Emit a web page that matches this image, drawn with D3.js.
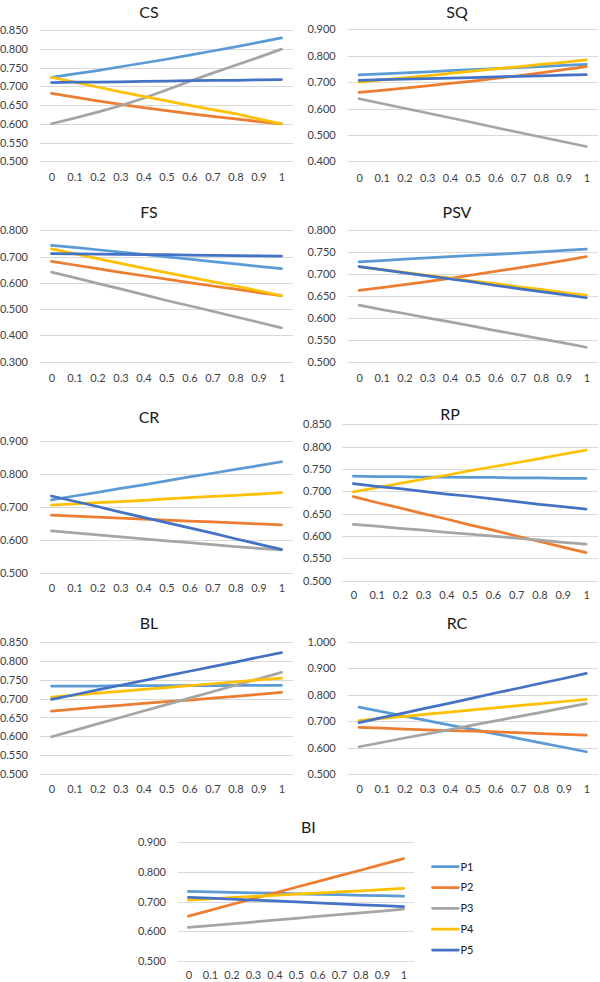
<!DOCTYPE html>
<html>
<head>
<meta charset="utf-8">
<script src="https://cdn.jsdelivr.net/npm/d3@7"></script>
<style>
  html, body { margin: 0; padding: 0; background: #fff; }
  svg { display: block; font-family: Lato, "Open Sans", sans-serif; }
</style>
</head>
<body>
<script>
// ---------------- DATA ----------------
const categories = ["0","0.1","0.2","0.3","0.4","0.5","0.6","0.7","0.8","0.9","1"];
const seriesNames = ["P1","P2","P3","P4","P5"];
const panelTitles = ["CS","SQ","FS","PSV","CR","RP","BL","RC","BI"];

const ticksCS  = [0.5,0.55,0.6,0.65,0.7,0.75,0.8,0.85];
const ticksSQ  = [0.4,0.5,0.6,0.7,0.8,0.9];
const ticksFS  = [0.3,0.4,0.5,0.6,0.7,0.8];
const ticksPSV = [0.5,0.55,0.6,0.65,0.7,0.75,0.8];
const ticksCR  = [0.5,0.6,0.7,0.8,0.9];
const ticksRP  = [0.5,0.55,0.6,0.65,0.7,0.75,0.8,0.85];
const ticksBL  = [0.5,0.55,0.6,0.65,0.7,0.75,0.8,0.85];
const ticksRC  = [0.5,0.6,0.7,0.8,0.9,1.0];
const ticksBI  = [0.5,0.6,0.7,0.8,0.9];

// values per panel: rows = P1..P5, columns = categories
const valuesCS = [
  [0.724,0.733,0.742,0.752,0.762,0.772,0.783,0.794,0.805,0.817,0.829],
  [0.681,0.671,0.661,0.652,0.643,0.635,0.627,0.620,0.613,0.606,0.600],
  [0.600,0.615,0.631,0.648,0.668,0.690,0.713,0.735,0.756,0.777,0.799],
  [0.724,0.711,0.698,0.685,0.673,0.661,0.649,0.638,0.627,0.613,0.600],
  [0.710,0.711,0.711,0.712,0.713,0.714,0.715,0.716,0.716,0.717,0.718]
];
const valuesSQ = [
  [0.727,0.731,0.735,0.739,0.743,0.747,0.751,0.755,0.759,0.763,0.767],
  [0.661,0.669,0.677,0.686,0.695,0.704,0.714,0.724,0.735,0.747,0.759],
  [0.637,0.619,0.601,0.583,0.565,0.547,0.528,0.510,0.492,0.474,0.456],
  [0.700,0.708,0.716,0.724,0.733,0.742,0.750,0.758,0.767,0.775,0.784],
  [0.707,0.709,0.711,0.713,0.715,0.717,0.720,0.722,0.724,0.726,0.728]
];
const valuesFS = [
  [0.743,0.735,0.726,0.717,0.708,0.699,0.690,0.681,0.672,0.663,0.654],
  [0.682,0.668,0.654,0.640,0.627,0.614,0.601,0.588,0.576,0.563,0.551],
  [0.641,0.620,0.598,0.577,0.555,0.533,0.513,0.492,0.471,0.450,0.429],
  [0.729,0.711,0.692,0.674,0.656,0.639,0.622,0.605,0.588,0.570,0.551],
  [0.711,0.710,0.709,0.708,0.707,0.707,0.706,0.705,0.704,0.703,0.702]
];
const valuesPSV = [
  [0.728,0.731,0.734,0.737,0.740,0.743,0.745,0.748,0.751,0.754,0.757],
  [0.663,0.669,0.676,0.683,0.690,0.698,0.706,0.714,0.722,0.731,0.740],
  [0.629,0.619,0.610,0.600,0.591,0.581,0.571,0.562,0.552,0.543,0.533],
  [0.717,0.710,0.704,0.697,0.691,0.684,0.678,0.671,0.665,0.658,0.652],
  [0.717,0.710,0.703,0.696,0.689,0.682,0.674,0.667,0.660,0.653,0.646]
];
const valuesCR = [
  [0.721,0.733,0.744,0.756,0.767,0.779,0.791,0.802,0.814,0.825,0.837],
  [0.675,0.672,0.669,0.666,0.663,0.660,0.657,0.654,0.651,0.648,0.645],
  [0.627,0.621,0.615,0.609,0.603,0.597,0.591,0.585,0.579,0.574,0.569],
  [0.705,0.709,0.713,0.716,0.720,0.724,0.728,0.732,0.735,0.739,0.743],
  [0.733,0.717,0.701,0.684,0.668,0.652,0.636,0.620,0.603,0.587,0.571]
];
const valuesRP = [
  [0.734,0.733,0.733,0.732,0.732,0.731,0.731,0.730,0.730,0.729,0.729],
  [0.688,0.675,0.663,0.650,0.638,0.625,0.613,0.600,0.588,0.575,0.563],
  [0.626,0.622,0.617,0.613,0.608,0.604,0.600,0.595,0.591,0.586,0.582],
  [0.699,0.708,0.718,0.727,0.736,0.746,0.755,0.764,0.773,0.783,0.792],
  [0.717,0.711,0.706,0.700,0.694,0.689,0.683,0.677,0.671,0.666,0.660]
];
const valuesBL = [
  [0.733,0.733,0.733,0.734,0.734,0.734,0.734,0.734,0.735,0.735,0.735],
  [0.667,0.672,0.677,0.682,0.687,0.692,0.696,0.701,0.706,0.711,0.716],
  [0.599,0.616,0.633,0.650,0.667,0.684,0.701,0.718,0.735,0.752,0.769],
  [0.704,0.709,0.714,0.719,0.724,0.729,0.734,0.739,0.744,0.749,0.754],
  [0.698,0.710,0.723,0.735,0.747,0.760,0.772,0.784,0.796,0.809,0.821]
];
const valuesRC = [
  [0.753,0.736,0.719,0.702,0.685,0.669,0.652,0.635,0.618,0.601,0.584],
  [0.676,0.673,0.670,0.667,0.664,0.662,0.659,0.656,0.653,0.650,0.647],
  [0.603,0.619,0.636,0.652,0.668,0.685,0.701,0.717,0.733,0.750,0.766],
  [0.702,0.710,0.718,0.726,0.734,0.742,0.750,0.758,0.766,0.774,0.782],
  [0.694,0.713,0.731,0.750,0.768,0.787,0.806,0.824,0.843,0.861,0.880]
];
const valuesBI = [
  [0.734,0.732,0.731,0.729,0.728,0.726,0.724,0.723,0.721,0.720,0.718],
  [0.651,0.670,0.690,0.709,0.728,0.748,0.767,0.786,0.805,0.825,0.844],
  [0.613,0.619,0.625,0.631,0.637,0.643,0.650,0.656,0.662,0.668,0.674],
  [0.705,0.709,0.713,0.717,0.721,0.725,0.728,0.732,0.736,0.740,0.744],
  [0.714,0.711,0.708,0.705,0.702,0.699,0.695,0.692,0.689,0.686,0.683]
];

// ---------------- STYLE / LAYOUT ----------------
const seriesColors = ["#5B9BD5","#ED7D31","#A5A5A5","#FFC000","#4472C4"];

const panelData = {
  CS: [valuesCS, ticksCS], SQ: [valuesSQ, ticksSQ], FS: [valuesFS, ticksFS],
  PSV: [valuesPSV, ticksPSV], CR: [valuesCR, ticksCR], RP: [valuesRP, ticksRP],
  BL: [valuesBL, ticksBL], RC: [valuesRC, ticksRC], BI: [valuesBI, ticksBI]
};

const layout = {
  CS:  {x0:40,    x1:293,   yTop:30,    yBot:161.3, gap:12, tx:149,   ty:17.5,  xb:181},
  SQ:  {x0:347.7, x1:597.7, yTop:29.3,  yBot:161.3, gap:12, tx:457,   ty:17.5,  xb:182.5},
  FS:  {x0:40,    x1:293,   yTop:230.3, yBot:361.7, gap:12, tx:149,   ty:217.7, xb:382},
  PSV: {x0:347.7, x1:597.7, yTop:230.3, yBot:361.7, gap:12, tx:457,   ty:218.3, xb:382},
  CR:  {x0:40,    x1:293,   yTop:441,   yBot:572.7, gap:12, tx:149,   ty:423.3, xb:592.5},
  RP:  {x0:341.7, x1:597.7, yTop:424.3, yBot:580.7, gap:10.5, tx:450, ty:420,   xb:599},
  BL:  {x0:40,    x1:293,   yTop:641.7, yBot:774.3, gap:12, tx:149,   ty:629.3, xb:793},
  RC:  {x0:347.7, x1:597.7, yTop:641.7, yBot:774,   gap:12, tx:457,   ty:629.3, xb:793},
  BI:  {x0:177.7, x1:414.3, yTop:842,   yBot:961,   gap:11.7, tx:308.3, ty:832.7, xb:979}
};

const tickFont = 11;
const svg = d3.select("body").append("svg").attr("width", 600).attr("height", 982);

panelTitles.forEach(name => {
  const L = layout[name];
  const [vals, ticks] = panelData[name];
  const g = svg.append("g");

  const x = d3.scalePoint().domain(categories).range([L.x0, L.x1]).padding(0.5);
  const y = d3.scaleLinear().domain(d3.extent(ticks)).range([L.yBot, L.yTop]);

  // y axis + gridlines
  const ya = g.append("g").attr("transform", `translate(${L.x0},0)`)
    .call(d3.axisLeft(y).tickValues(ticks).tickSize(-(L.x1 - L.x0)).tickPadding(L.gap).tickFormat(d3.format(".3f")));
  ya.select(".domain").remove();
  ya.selectAll(".tick line").attr("stroke", "#d9d9d9").attr("stroke-width", 1).attr("shape-rendering", "crispEdges");
  ya.selectAll(".tick text").attr("fill", "#404040").style("font-size", tickFont + "px").style("font-family", "Lato, sans-serif");

  // x axis
  const xa = g.append("g").attr("transform", `translate(0,${L.yBot})`)
    .call(d3.axisBottom(x).tickSize(0).tickPadding(L.xb - L.yBot - 0.71 * tickFont));
  xa.select(".domain").remove();
  xa.selectAll(".tick text").attr("fill", "#404040").style("font-size", tickFont + "px").style("font-family", "Lato, sans-serif");

  // lines
  const line = d3.line().x((d, i) => x(categories[i])).y(d => y(d));
  vals.forEach((s, k) => {
    g.append("path").datum(s).attr("d", line)
      .attr("fill", "none").attr("stroke", seriesColors[k]).attr("stroke-width", 2.75)
      .attr("stroke-linecap", "round").attr("stroke-linejoin", "round");
  });

  // title
  g.append("text").attr("x", L.tx).attr("y", L.ty).attr("text-anchor", "middle")
    .attr("fill", "#1a1a1a").style("font-size", "16px").style("font-family", "Lato, sans-serif")
    .text(name);
});

// legend
const legend = svg.append("g");
const legendY = d3.scalePoint().domain(seriesNames).range([866.7, 950]);
seriesNames.forEach((n, k) => {
  const yy = legendY(n);
  legend.append("line").attr("x1", 432.5).attr("x2", 458.3).attr("y1", yy).attr("y2", yy)
    .attr("stroke", seriesColors[k]).attr("stroke-width", 2.75).attr("stroke-linecap", "round");
  legend.append("text").attr("x", 460.5).attr("y", yy).attr("dy", "0.35em")
    .attr("fill", "#1a1a1a").style("font-size", tickFont + "px").style("font-family", "Lato, sans-serif")
    .text(n);
});
</script>
</body>
</html>
